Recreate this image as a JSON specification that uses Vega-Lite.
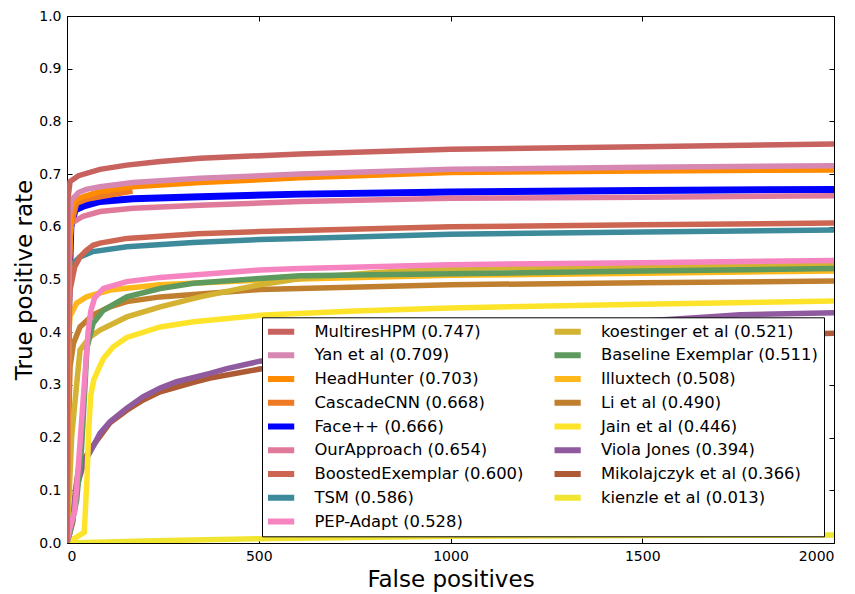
{
  "$schema": "https://vega.github.io/schema/vega-lite/v6.json",
  "width": 767,
  "height": 527,
  "autosize": "none",
  "padding": {"left": 67, "top": 16, "right": 21, "bottom": 51},
  "background": "white",
  "config": {
    "font": "DejaVu Sans",
    "view": {"stroke": "black", "strokeWidth": 1},
    "axis": {
      "labelFont": "DejaVu Sans", "labelFontSize": 14, "labelColor": "black",
      "titleFont": "DejaVu Sans", "titleFontSize": 23, "titleFontWeight": "normal", "titleColor": "black",
      "domain": false, "tickColor": "black", "tickSize": -5, "tickWidth": 1, "labelPadding": 11,
      "grid": true, "gridColor": "black", "gridDash": [1, 3], "gridOpacity": 0.8, "gridWidth": 1
    },
    "legend": {
      "orient": "none", "legendX": 195, "legendY": 301.3,
      "columns": 2, "columnPadding": 30.5, "rowPadding": 6.76, "padding": 6, "clipHeight": 16.4,
      "strokeColor": "black", "fillColor": "white", "cornerRadius": 0,
      "labelFont": "DejaVu Sans", "labelFontSize": 16.4, "labelColor": "black", "labelLimit": 400, "labelOffset": 26.6,
      "symbolType": "M-3,0H3", "symbolSize": 95, "symbolStrokeWidth": 6, "symbolOffset": 3.4, "symbolOpacity": 1
    }
  },
  "data": {"values": [
    {"s":"kienzle et al (0.013)","x":0,"y":0},{"s":"kienzle et al (0.013)","x":200,"y":0.004},{"s":"kienzle et al (0.013)","x":500,"y":0.008},{"s":"kienzle et al (0.013)","x":1000,"y":0.013},{"s":"kienzle et al (0.013)","x":1500,"y":0.014},{"s":"kienzle et al (0.013)","x":2000,"y":0.015},
    {"s":"Mikolajczyk et al (0.366)","x":0,"y":0},{"s":"Mikolajczyk et al (0.366)","x":15,"y":0.04},{"s":"Mikolajczyk et al (0.366)","x":22,"y":0.10},{"s":"Mikolajczyk et al (0.366)","x":30,"y":0.14},{"s":"Mikolajczyk et al (0.366)","x":45,"y":0.16},{"s":"Mikolajczyk et al (0.366)","x":68,"y":0.185},{"s":"Mikolajczyk et al (0.366)","x":112,"y":0.228},{"s":"Mikolajczyk et al (0.366)","x":156,"y":0.252},{"s":"Mikolajczyk et al (0.366)","x":200,"y":0.272},{"s":"Mikolajczyk et al (0.366)","x":243,"y":0.287},{"s":"Mikolajczyk et al (0.366)","x":330,"y":0.305},{"s":"Mikolajczyk et al (0.366)","x":373,"y":0.313},{"s":"Mikolajczyk et al (0.366)","x":503,"y":0.330},{"s":"Mikolajczyk et al (0.366)","x":750,"y":0.350},{"s":"Mikolajczyk et al (0.366)","x":1000,"y":0.366},{"s":"Mikolajczyk et al (0.366)","x":1300,"y":0.380},{"s":"Mikolajczyk et al (0.366)","x":1600,"y":0.390},{"s":"Mikolajczyk et al (0.366)","x":2000,"y":0.398},
    {"s":"Viola Jones (0.394)","x":0,"y":0},{"s":"Viola Jones (0.394)","x":15,"y":0.05},{"s":"Viola Jones (0.394)","x":25,"y":0.105},{"s":"Viola Jones (0.394)","x":43,"y":0.15},{"s":"Viola Jones (0.394)","x":68,"y":0.183},{"s":"Viola Jones (0.394)","x":86,"y":0.208},{"s":"Viola Jones (0.394)","x":112,"y":0.230},{"s":"Viola Jones (0.394)","x":156,"y":0.256},{"s":"Viola Jones (0.394)","x":199,"y":0.278},{"s":"Viola Jones (0.394)","x":243,"y":0.294},{"s":"Viola Jones (0.394)","x":286,"y":0.306},{"s":"Viola Jones (0.394)","x":373,"y":0.322},{"s":"Viola Jones (0.394)","x":417,"y":0.331},{"s":"Viola Jones (0.394)","x":503,"y":0.345},{"s":"Viola Jones (0.394)","x":750,"y":0.372},{"s":"Viola Jones (0.394)","x":1000,"y":0.394},{"s":"Viola Jones (0.394)","x":1300,"y":0.412},{"s":"Viola Jones (0.394)","x":1669,"y":0.429},{"s":"Viola Jones (0.394)","x":1755,"y":0.433},{"s":"Viola Jones (0.394)","x":2000,"y":0.437},
    {"s":"Jain et al (0.446)","x":0,"y":0},{"s":"Jain et al (0.446)","x":45,"y":0.02},{"s":"Jain et al (0.446)","x":52,"y":0.12},{"s":"Jain et al (0.446)","x":57,"y":0.22},{"s":"Jain et al (0.446)","x":62,"y":0.28},{"s":"Jain et al (0.446)","x":70,"y":0.31},{"s":"Jain et al (0.446)","x":82,"y":0.33},{"s":"Jain et al (0.446)","x":95,"y":0.35},{"s":"Jain et al (0.446)","x":120,"y":0.372},{"s":"Jain et al (0.446)","x":156,"y":0.39},{"s":"Jain et al (0.446)","x":243,"y":0.41},{"s":"Jain et al (0.446)","x":330,"y":0.42},{"s":"Jain et al (0.446)","x":503,"y":0.432},{"s":"Jain et al (0.446)","x":750,"y":0.44},{"s":"Jain et al (0.446)","x":1000,"y":0.446},{"s":"Jain et al (0.446)","x":1500,"y":0.453},{"s":"Jain et al (0.446)","x":2000,"y":0.459},
    {"s":"Li et al (0.490)","x":0,"y":0},{"s":"Li et al (0.490)","x":3,"y":0.2},{"s":"Li et al (0.490)","x":8,"y":0.335},{"s":"Li et al (0.490)","x":17,"y":0.379},{"s":"Li et al (0.490)","x":34,"y":0.410},{"s":"Li et al (0.490)","x":68,"y":0.433},{"s":"Li et al (0.490)","x":112,"y":0.448},{"s":"Li et al (0.490)","x":156,"y":0.458},{"s":"Li et al (0.490)","x":243,"y":0.467},{"s":"Li et al (0.490)","x":503,"y":0.481},{"s":"Li et al (0.490)","x":1000,"y":0.490},{"s":"Li et al (0.490)","x":1500,"y":0.494},{"s":"Li et al (0.490)","x":2000,"y":0.497},
    {"s":"Illuxtech (0.508)","x":0,"y":0},{"s":"Illuxtech (0.508)","x":3,"y":0.30},{"s":"Illuxtech (0.508)","x":5,"y":0.40},{"s":"Illuxtech (0.508)","x":8,"y":0.43},{"s":"Illuxtech (0.508)","x":25,"y":0.455},{"s":"Illuxtech (0.508)","x":51,"y":0.467},{"s":"Illuxtech (0.508)","x":112,"y":0.480},{"s":"Illuxtech (0.508)","x":243,"y":0.490},{"s":"Illuxtech (0.508)","x":503,"y":0.499},{"s":"Illuxtech (0.508)","x":1000,"y":0.508},{"s":"Illuxtech (0.508)","x":1500,"y":0.512},{"s":"Illuxtech (0.508)","x":2000,"y":0.516},
    {"s":"koestinger et al (0.521)","x":0,"y":0},{"s":"koestinger et al (0.521)","x":6,"y":0.10},{"s":"koestinger et al (0.521)","x":12,"y":0.20},{"s":"koestinger et al (0.521)","x":25,"y":0.30},{"s":"koestinger et al (0.521)","x":34,"y":0.366},{"s":"koestinger et al (0.521)","x":60,"y":0.391},{"s":"koestinger et al (0.521)","x":86,"y":0.404},{"s":"koestinger et al (0.521)","x":156,"y":0.429},{"s":"koestinger et al (0.521)","x":243,"y":0.448},{"s":"koestinger et al (0.521)","x":347,"y":0.467},{"s":"koestinger et al (0.521)","x":503,"y":0.490},{"s":"koestinger et al (0.521)","x":608,"y":0.502},{"s":"koestinger et al (0.521)","x":800,"y":0.513},{"s":"koestinger et al (0.521)","x":1000,"y":0.521},{"s":"koestinger et al (0.521)","x":1500,"y":0.525},{"s":"koestinger et al (0.521)","x":2000,"y":0.528},
    {"s":"Baseline Exemplar (0.511)","x":0,"y":0},{"s":"Baseline Exemplar (0.511)","x":8,"y":0.02},{"s":"Baseline Exemplar (0.511)","x":25,"y":0.08},{"s":"Baseline Exemplar (0.511)","x":38,"y":0.18},{"s":"Baseline Exemplar (0.511)","x":47,"y":0.30},{"s":"Baseline Exemplar (0.511)","x":52,"y":0.37},{"s":"Baseline Exemplar (0.511)","x":68,"y":0.417},{"s":"Baseline Exemplar (0.511)","x":95,"y":0.442},{"s":"Baseline Exemplar (0.511)","x":156,"y":0.467},{"s":"Baseline Exemplar (0.511)","x":243,"y":0.483},{"s":"Baseline Exemplar (0.511)","x":330,"y":0.493},{"s":"Baseline Exemplar (0.511)","x":503,"y":0.502},{"s":"Baseline Exemplar (0.511)","x":608,"y":0.507},{"s":"Baseline Exemplar (0.511)","x":1000,"y":0.511},{"s":"Baseline Exemplar (0.511)","x":1500,"y":0.516},{"s":"Baseline Exemplar (0.511)","x":2000,"y":0.521},
    {"s":"PEP-Adapt (0.528)","x":0,"y":0},{"s":"PEP-Adapt (0.528)","x":8,"y":0.03},{"s":"PEP-Adapt (0.528)","x":20,"y":0.06},{"s":"PEP-Adapt (0.528)","x":30,"y":0.15},{"s":"PEP-Adapt (0.528)","x":40,"y":0.25},{"s":"PEP-Adapt (0.528)","x":48,"y":0.33},{"s":"PEP-Adapt (0.528)","x":55,"y":0.40},{"s":"PEP-Adapt (0.528)","x":62,"y":0.44},{"s":"PEP-Adapt (0.528)","x":72,"y":0.465},{"s":"PEP-Adapt (0.528)","x":95,"y":0.483},{"s":"PEP-Adapt (0.528)","x":156,"y":0.496},{"s":"PEP-Adapt (0.528)","x":243,"y":0.504},{"s":"PEP-Adapt (0.528)","x":503,"y":0.518},{"s":"PEP-Adapt (0.528)","x":608,"y":0.521},{"s":"PEP-Adapt (0.528)","x":1000,"y":0.528},{"s":"PEP-Adapt (0.528)","x":1500,"y":0.532},{"s":"PEP-Adapt (0.528)","x":2000,"y":0.536},
    {"s":"TSM (0.586)","x":0,"y":0},{"s":"TSM (0.586)","x":3,"y":0.45},{"s":"TSM (0.586)","x":10,"y":0.525},{"s":"TSM (0.586)","x":17,"y":0.531},{"s":"TSM (0.586)","x":34,"y":0.543},{"s":"TSM (0.586)","x":68,"y":0.553},{"s":"TSM (0.586)","x":156,"y":0.562},{"s":"TSM (0.586)","x":329,"y":0.570},{"s":"TSM (0.586)","x":503,"y":0.576},{"s":"TSM (0.586)","x":608,"y":0.578},{"s":"TSM (0.586)","x":1000,"y":0.586},{"s":"TSM (0.586)","x":1500,"y":0.590},{"s":"TSM (0.586)","x":2000,"y":0.594},
    {"s":"BoostedExemplar (0.600)","x":0,"y":0},{"s":"BoostedExemplar (0.600)","x":3,"y":0.35},{"s":"BoostedExemplar (0.600)","x":8,"y":0.48},{"s":"BoostedExemplar (0.600)","x":20,"y":0.524},{"s":"BoostedExemplar (0.600)","x":34,"y":0.543},{"s":"BoostedExemplar (0.600)","x":50,"y":0.555},{"s":"BoostedExemplar (0.600)","x":68,"y":0.565},{"s":"BoostedExemplar (0.600)","x":86,"y":0.569},{"s":"BoostedExemplar (0.600)","x":156,"y":0.578},{"s":"BoostedExemplar (0.600)","x":340,"y":0.587},{"s":"BoostedExemplar (0.600)","x":503,"y":0.591},{"s":"BoostedExemplar (0.600)","x":608,"y":0.593},{"s":"BoostedExemplar (0.600)","x":1000,"y":0.600},{"s":"BoostedExemplar (0.600)","x":1500,"y":0.604},{"s":"BoostedExemplar (0.600)","x":2000,"y":0.607},
    {"s":"OurApproach (0.654)","x":0,"y":0},{"s":"OurApproach (0.654)","x":3,"y":0.45},{"s":"OurApproach (0.654)","x":8,"y":0.58},{"s":"OurApproach (0.654)","x":12,"y":0.607},{"s":"OurApproach (0.654)","x":42,"y":0.620},{"s":"OurApproach (0.654)","x":86,"y":0.629},{"s":"OurApproach (0.654)","x":172,"y":0.635},{"s":"OurApproach (0.654)","x":347,"y":0.641},{"s":"OurApproach (0.654)","x":608,"y":0.648},{"s":"OurApproach (0.654)","x":1000,"y":0.654},{"s":"OurApproach (0.654)","x":1500,"y":0.656},{"s":"OurApproach (0.654)","x":2000,"y":0.659},
    {"s":"Face++ (0.666)","x":0,"y":0},{"s":"Face++ (0.666)","x":4,"y":0.45},{"s":"Face++ (0.666)","x":10,"y":0.60},{"s":"Face++ (0.666)","x":21,"y":0.632},{"s":"Face++ (0.666)","x":42,"y":0.639},{"s":"Face++ (0.666)","x":86,"y":0.648},{"s":"Face++ (0.666)","x":172,"y":0.653},{"s":"Face++ (0.666)","x":347,"y":0.657},{"s":"Face++ (0.666)","x":608,"y":0.662},{"s":"Face++ (0.666)","x":1000,"y":0.666},{"s":"Face++ (0.666)","x":1500,"y":0.669},{"s":"Face++ (0.666)","x":2000,"y":0.671},
    {"s":"CascadeCNN (0.668)","x":0,"y":0},{"s":"CascadeCNN (0.668)","x":4,"y":0.50},{"s":"CascadeCNN (0.668)","x":10,"y":0.60},{"s":"CascadeCNN (0.668)","x":25,"y":0.645},{"s":"CascadeCNN (0.668)","x":50,"y":0.652},{"s":"CascadeCNN (0.668)","x":86,"y":0.657},{"s":"CascadeCNN (0.668)","x":171,"y":0.668},
    {"s":"HeadHunter (0.703)","x":0,"y":0},{"s":"HeadHunter (0.703)","x":4,"y":0.45},{"s":"HeadHunter (0.703)","x":8,"y":0.58},{"s":"HeadHunter (0.703)","x":12,"y":0.63},{"s":"HeadHunter (0.703)","x":20,"y":0.650},{"s":"HeadHunter (0.703)","x":42,"y":0.657},{"s":"HeadHunter (0.703)","x":86,"y":0.667},{"s":"HeadHunter (0.703)","x":172,"y":0.676},{"s":"HeadHunter (0.703)","x":347,"y":0.684},{"s":"HeadHunter (0.703)","x":608,"y":0.693},{"s":"HeadHunter (0.703)","x":1000,"y":0.703},{"s":"HeadHunter (0.703)","x":1500,"y":0.706},{"s":"HeadHunter (0.703)","x":2000,"y":0.708},
    {"s":"Yan et al (0.709)","x":0,"y":0},{"s":"Yan et al (0.709)","x":3,"y":0.55},{"s":"Yan et al (0.709)","x":6,"y":0.62},{"s":"Yan et al (0.709)","x":12,"y":0.651},{"s":"Yan et al (0.709)","x":30,"y":0.665},{"s":"Yan et al (0.709)","x":50,"y":0.671},{"s":"Yan et al (0.709)","x":86,"y":0.676},{"s":"Yan et al (0.709)","x":172,"y":0.684},{"s":"Yan et al (0.709)","x":347,"y":0.692},{"s":"Yan et al (0.709)","x":608,"y":0.700},{"s":"Yan et al (0.709)","x":1000,"y":0.709},{"s":"Yan et al (0.709)","x":1500,"y":0.713},{"s":"Yan et al (0.709)","x":2000,"y":0.716},
    {"s":"MultiresHPM (0.747)","x":0,"y":0},{"s":"MultiresHPM (0.747)","x":1,"y":0.40},{"s":"MultiresHPM (0.747)","x":2,"y":0.65},{"s":"MultiresHPM (0.747)","x":8,"y":0.686},{"s":"MultiresHPM (0.747)","x":30,"y":0.697},{"s":"MultiresHPM (0.747)","x":86,"y":0.709},{"s":"MultiresHPM (0.747)","x":156,"y":0.717},{"s":"MultiresHPM (0.747)","x":243,"y":0.724},{"s":"MultiresHPM (0.747)","x":347,"y":0.730},{"s":"MultiresHPM (0.747)","x":503,"y":0.735},{"s":"MultiresHPM (0.747)","x":608,"y":0.738},{"s":"MultiresHPM (0.747)","x":1000,"y":0.747},{"s":"MultiresHPM (0.747)","x":1500,"y":0.752},{"s":"MultiresHPM (0.747)","x":2000,"y":0.757}
  ]},
  "layer": [
    {
      "transform": [{"filter": "datum.s === 'Face++ (0.666)'"}],
      "mark": {"type": "line", "clip": true, "strokeWidth": 7},
      "encoding": {
        "x": {"field": "x", "type": "quantitative", "scale": {"domain": [0, 2000], "nice": false, "zero": false}, "axis": null},
        "y": {"field": "y", "type": "quantitative", "scale": {"domain": [0, 1], "nice": false}, "axis": null},
        "color": {"field": "s", "type": "nominal", "legend": {"title": null}}
      }
    },
    {
      "transform": [{"filter": "datum.s !== 'Face++ (0.666)'"}],
      "mark": {"type": "line", "clip": true, "strokeWidth": 5.5},
      "encoding": {
        "x": {"field": "x", "type": "quantitative", "scale": {"domain": [0, 2000], "nice": false, "zero": false},
              "axis": {"values": [0, 500, 1000, 1500, 2000], "format": "d", "title": "False positives", "titlePadding": 5}},
        "y": {"field": "y", "type": "quantitative", "scale": {"domain": [0, 1], "nice": false},
              "axis": {"values": [0, 0.1, 0.2, 0.3, 0.4, 0.5, 0.6, 0.7, 0.8, 0.9, 1.0], "format": ".1f", "title": "True positive rate", "titlePadding": 2}},
        "color": {
          "field": "s", "type": "nominal",
          "scale": {
            "domain": ["MultiresHPM (0.747)", "Yan et al (0.709)", "HeadHunter (0.703)", "CascadeCNN (0.668)", "Face++ (0.666)", "OurApproach (0.654)", "BoostedExemplar (0.600)", "TSM (0.586)", "PEP-Adapt (0.528)", "koestinger et al (0.521)", "Baseline Exemplar (0.511)", "Illuxtech (0.508)", "Li et al (0.490)", "Jain et al (0.446)", "Viola Jones (0.394)", "Mikolajczyk et al (0.366)", "kienzle et al (0.013)"],
            "range": ["#c8625f", "#d688b3", "#ff8c00", "#ef7a24", "#0000ff", "#e07a9a", "#cc6652", "#3d8a9a", "#f584c0", "#d4b232", "#5e9a5e", "#ffb81c", "#bf7f2f", "#fde42a", "#8f5a9e", "#ad5a35", "#f0e632"]
          },
          "legend": {"title": null}
        }
      }
    },
    {
      "mark": {"type": "point", "opacity": 0},
      "encoding": {
        "x": {"field": "x", "type": "quantitative",
              "axis": {"orient": "top", "values": [0, 500, 1000, 1500, 2000], "labels": false, "title": null, "grid": false}},
        "y": {"field": "y", "type": "quantitative",
              "axis": {"orient": "right", "values": [0, 0.1, 0.2, 0.3, 0.4, 0.5, 0.6, 0.7, 0.8, 0.9, 1.0], "labels": false, "title": null, "grid": false}}
      }
    }
  ],
  "resolve": {"axis": {"x": "independent", "y": "independent"}}
}
